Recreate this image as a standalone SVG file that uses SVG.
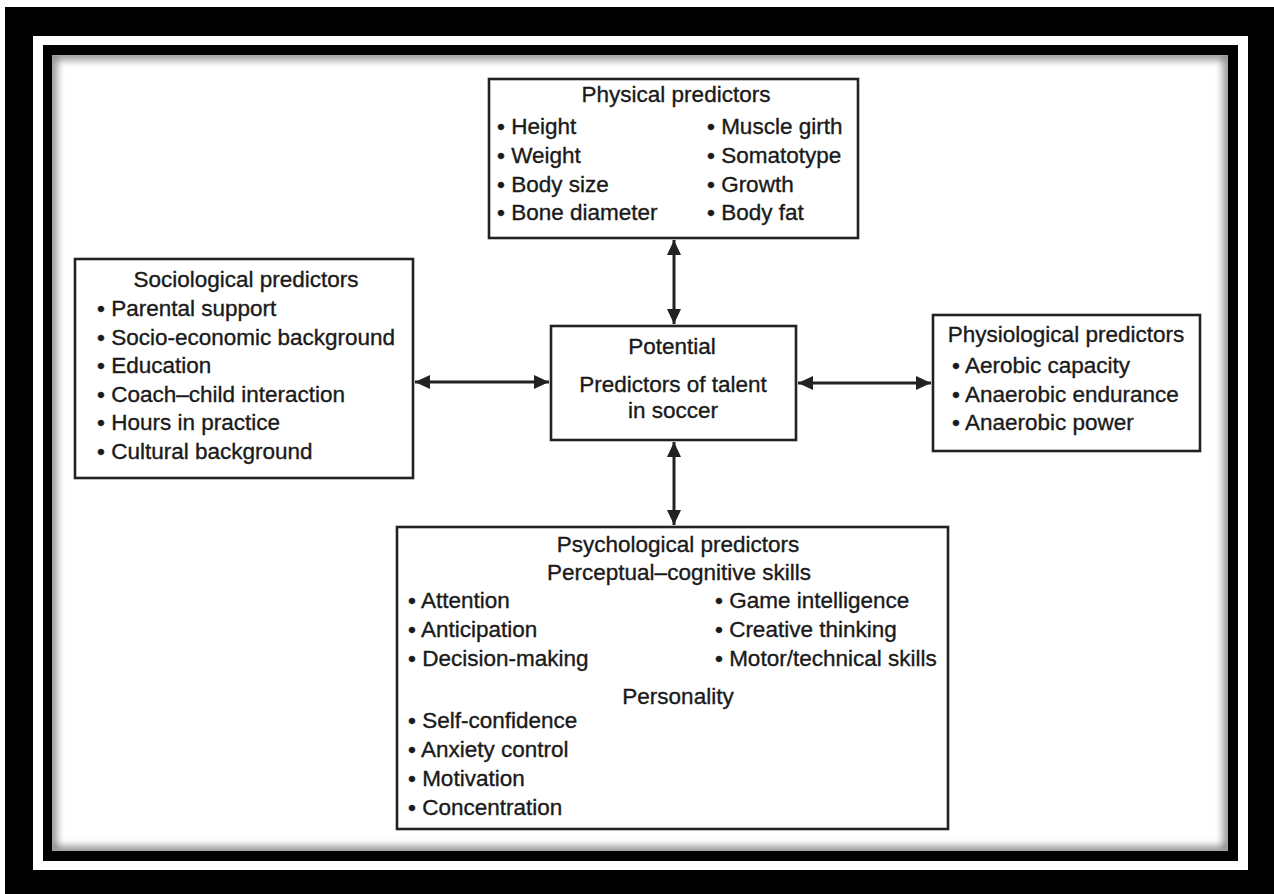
<svg xmlns="http://www.w3.org/2000/svg" width="1274" height="894" viewBox="0 0 1274 894">
<style>
.box{fill:#fff;stroke:#222;stroke-width:2.6}
.t{font-family:"Liberation Sans",Arial,Helvetica,sans-serif;font-size:22.5px;fill:#1a1a1a;stroke:#1a1a1a;stroke-width:0.35}
.c{text-anchor:middle}
.conn{stroke:#222;stroke-width:3;fill:none}
</style>
<defs>
<marker id="ah" markerUnits="userSpaceOnUse" markerWidth="16" markerHeight="16" viewBox="0 0 16 16" refX="15" refY="8" orient="auto-start-reverse">
<path d="M0,1 L15,8 L0,15 Z" fill="#222"/>
</marker>
<filter id="blur" x="-5%" y="-5%" width="110%" height="110%"><feGaussianBlur stdDeviation="4"/></filter>
<clipPath id="inner"><rect x="52" y="55" width="1176" height="796"/></clipPath>
</defs>
<rect x="0" y="0" width="1274" height="894" fill="#fff"/>
<rect x="5" y="7" width="1269" height="887" fill="#000"/>
<rect x="33" y="36" width="1215" height="834" fill="#fff"/>
<rect x="43" y="45" width="1195" height="816" fill="#000"/>
<rect x="52" y="55" width="1176" height="796" fill="#fff"/>
<g clip-path="url(#inner)">
<rect x="52" y="55" width="1176" height="796" fill="none" stroke="#777" stroke-width="8" filter="url(#blur)"/>
</g>

<g id="connectors">
<line class="conn" x1="674" y1="240" x2="674" y2="324" marker-start="url(#ah)" marker-end="url(#ah)"/>
<line class="conn" x1="674" y1="442" x2="674" y2="525" marker-start="url(#ah)" marker-end="url(#ah)"/>
<line class="conn" x1="415" y1="382" x2="549" y2="382" marker-start="url(#ah)" marker-end="url(#ah)"/>
<line class="conn" x1="798" y1="383" x2="931" y2="383" marker-start="url(#ah)" marker-end="url(#ah)"/>
</g>

<g id="physical">
<rect class="box" x="489" y="79" width="369" height="159"/>
<text class="t c" x="676" y="102">Physical predictors</text>
<text class="t" x="497" y="134">• Height</text>
<text class="t" x="497" y="163">• Weight</text>
<text class="t" x="497" y="192">• Body size</text>
<text class="t" x="497" y="220">• Bone diameter</text>
<text class="t" x="707" y="134">• Muscle girth</text>
<text class="t" x="707" y="163">• Somatotype</text>
<text class="t" x="707" y="192">• Growth</text>
<text class="t" x="707" y="220">• Body fat</text>
</g>

<g id="sociological">
<rect class="box" x="75" y="259" width="338" height="219"/>
<text class="t c" x="246" y="287">Sociological predictors</text>
<text class="t" x="97" y="316">• Parental support</text>
<text class="t" x="97" y="345">• Socio-economic background</text>
<text class="t" x="97" y="373">• Education</text>
<text class="t" x="97" y="402">• Coach–child interaction</text>
<text class="t" x="97" y="430">• Hours in practice</text>
<text class="t" x="97" y="459">• Cultural background</text>
</g>

<g id="center">
<rect class="box" x="551" y="326" width="245" height="114"/>
<text class="t c" x="672" y="354">Potential</text>
<text class="t c" x="673" y="392">Predictors of talent</text>
<text class="t c" x="673" y="418">in soccer</text>
</g>

<g id="physiological">
<rect class="box" x="933" y="315" width="267" height="136"/>
<text class="t c" x="1066" y="342">Physiological predictors</text>
<text class="t" x="952" y="373">• Aerobic capacity</text>
<text class="t" x="952" y="402">• Anaerobic endurance</text>
<text class="t" x="952" y="430">• Anaerobic power</text>
</g>

<g id="psychological">
<rect class="box" x="397" y="527" width="551" height="302"/>
<text class="t c" x="678" y="552">Psychological predictors</text>
<text class="t c" x="679" y="580">Perceptual–cognitive skills</text>
<text class="t" x="408" y="608">• Attention</text>
<text class="t" x="408" y="637">• Anticipation</text>
<text class="t" x="408" y="666">• Decision-making</text>
<text class="t" x="715" y="608">• Game intelligence</text>
<text class="t" x="715" y="637">• Creative thinking</text>
<text class="t" x="715" y="666">• Motor/technical skills</text>
<text class="t c" x="678" y="704">Personality</text>
<text class="t" x="408" y="728">• Self-confidence</text>
<text class="t" x="408" y="757">• Anxiety control</text>
<text class="t" x="408" y="786">• Motivation</text>
<text class="t" x="408" y="815">• Concentration</text>
</g>
</svg>
